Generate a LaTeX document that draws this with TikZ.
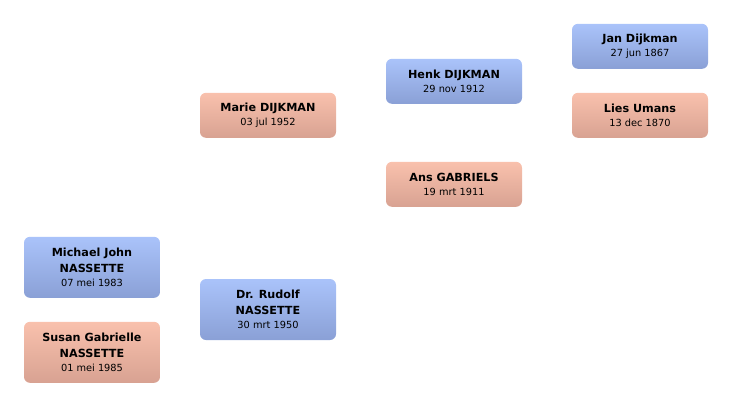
\documentclass[tikz,border=0pt]{standalone}
\usepackage{fontspec}
\setmainfont{DejaVu Sans}
\tikzset{
  person/.style={rounded corners=6pt, minimum width=136pt, inner sep=0pt, align=center, text=black,
    font=\fontsize{11}{16}\selectfont},
  male/.style={person, top color=maleTop, bottom color=maleBot},
  female/.style={person, top color=femTop, bottom color=femBot},
  short/.style={minimum height=45pt},
  tall/.style={minimum height=61pt},
}
\definecolor{maleTop}{RGB}{170,195,250}
\definecolor{maleBot}{RGB}{138,160,214}
\definecolor{femTop}{RGB}{249,193,173}
\definecolor{femBot}{RGB}{216,162,146}
\newcommand{\nm}[1]{{\fontsize{11.2}{16}\selectfont\bfseries #1}}
\newcommand{\dt}[1]{{\fontsize{9.8}{13}\selectfont #1}}
\begin{document}
\begin{tikzpicture}[x=1pt,y=-1pt]
\useasboundingbox (0,0) rectangle (732,407);
\node[male,short] (jan) at (640,46.3) {\nm{Jan Dijkman}\\[-2.5pt]\dt{27 jun 1867}};
\node[female,short] (lies) at (640,115.3) {\nm{Lies Umans}\\[-2.5pt]\dt{13 dec 1870}};
\node[male,short] (henk) at (454,81.3) {\nm{Henk DIJKMAN}\\[-2.5pt]\dt{29 nov 1912}};
\node[female,short] (ans) at (454,184.3) {\nm{Ans GABRIELS}\\[-2.5pt]\dt{19 mrt 1911}};
\node[female,short] (marie) at (268,115.3) {\nm{Marie DIJKMAN}\\[-2.5pt]\dt{03 jul 1952}};
\node[male,tall] (michael) at (92,267.3) {\nm{Michael John}\\\nm{NASSETTE}\\[-2.5pt]\dt{07 mei 1983}};
\node[female,tall] (susan) at (92,352.3) {\nm{Susan Gabrielle}\\\nm{NASSETTE}\\[-2.5pt]\dt{01 mei 1985}};
\node[male,tall] (rudolf) at (268,309.5) {\nm{Dr. Rudolf}\\\nm{NASSETTE}\\[-2.5pt]\dt{30 mrt 1950}};
\end{tikzpicture}
\end{document}
